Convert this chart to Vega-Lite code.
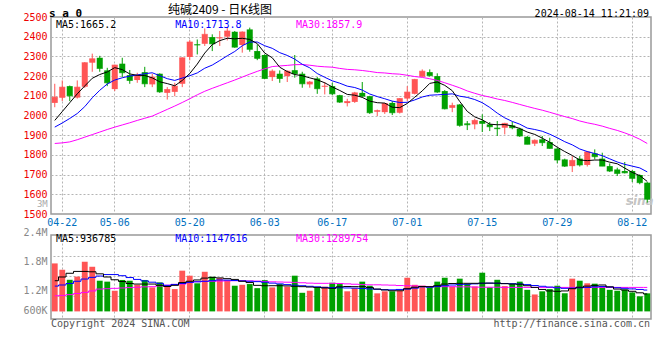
{
  "$schema": "https://vega.github.io/schema/vega-lite/v6.json",
  "background": "white",
  "padding": {"left": 22, "top": 2, "right": 4, "bottom": 4},
  "bounds": "flush",
  "spacing": 21,
  "config": {
    "view": {"stroke": "#999999", "strokeWidth": 1.5},
    "axis": {"labelFont": "DejaVu Sans Mono", "labelFontSize": 10, "gridColor": "#b4b4b4", "gridDash": [2, 2], "gridWidth": 1, "ticks": false, "domain": false},
    "text": {"font": "DejaVu Sans Mono", "fontSize": 10}
  },
  "resolve": {"scale": {"y": "independent"}},
  "data": {"values": [
    {"d":"04-19","o":2064,"h":2161,"l":2042,"c":2093,"v":2580000,"m5":1975,"m10":1941,"m30":1858,"vm5":1650000,"vm10":1360000,"vm30":840000},
    {"d":"04-22","o":2090,"h":2178,"l":2073,"c":2144,"v":2240000,"m5":2020,"m10":1962,"m30":1861,"vm5":1850000,"vm10":1420000,"vm30":860000},
    {"d":"04-23","o":2149,"h":2152,"l":2073,"c":2100,"v":1700000,"m5":2065,"m10":1985,"m30":1866,"vm5":2050000,"vm10":1500000,"vm30":900000},
    {"d":"04-24","o":2091,"h":2178,"l":2086,"c":2144,"v":1870000,"m5":2110,"m10":2010,"m30":1877,"vm5":2150000,"vm10":1620000,"vm30":960000},
    {"d":"04-25","o":2146,"h":2271,"l":2140,"c":2268,"v":2670000,"m5":2150,"m10":2045,"m30":1890,"vm5":2150000,"vm10":1740000,"vm30":1020000},
    {"d":"04-26","o":2268,"h":2314,"l":2222,"c":2288,"v":2400000,"m5":2189,"m10":2090,"m30":1903,"vm5":2130000,"vm10":1830000,"vm30":1100000},
    {"d":"04-29","o":2293,"h":2303,"l":2222,"c":2239,"v":1650000,"m5":2208,"m10":2128,"m30":1916,"vm5":2020000,"vm10":1900000,"vm30":1200000},
    {"d":"04-30","o":2229,"h":2242,"l":2149,"c":2166,"v":1600000,"m5":2221,"m10":2160,"m30":1929,"vm5":1850000,"vm10":1980000,"vm30":1220000},
    {"d":"05-06","o":2134,"h":2258,"l":2124,"c":2256,"v":1110000,"m5":2243,"m10":2180,"m30":1941,"vm5":1700000,"vm10":1980000,"vm30":1240000},
    {"d":"05-07","o":2263,"h":2293,"l":2195,"c":2217,"v":1690000,"m5":2233,"m10":2191.5,"m30":1952,"vm5":1610000,"vm10":1920000,"vm30":1260000},
    {"d":"05-08","o":2205,"h":2231,"l":2161,"c":2178,"v":1650000,"m5":2211,"m10":2200,"m30":1963,"vm5":1500000,"vm10":1820000,"vm30":1280000},
    {"d":"05-09","o":2180,"h":2217,"l":2166,"c":2203,"v":1430000,"m5":2204,"m10":2206,"m30":1975,"vm5":1470000,"vm10":1720000,"vm30":1300000},
    {"d":"05-10","o":2220,"h":2247,"l":2144,"c":2161,"v":1690000,"m5":2203,"m10":2212,"m30":1986,"vm5":1470000,"vm10":1640000,"vm30":1320000},
    {"d":"05-13","o":2158,"h":2212,"l":2144,"c":2195,"v":1290000,"m5":2191,"m10":2217,"m30":1997,"vm5":1470000,"vm10":1570000,"vm30":1330000},
    {"d":"05-14","o":2212,"h":2214,"l":2115,"c":2120,"v":1560000,"m5":2171,"m10":2202,"m30":2014,"vm5":1400000,"vm10":1510000,"vm30":1370000},
    {"d":"05-15","o":2115,"h":2144,"l":2081,"c":2132,"v":1380000,"m5":2162,"m10":2187,"m30":2031,"vm5":1340000,"vm10":1400000,"vm30":1410000},
    {"d":"05-16","o":2120,"h":2166,"l":2098,"c":2149,"v":1200000,"m5":2151,"m10":2178,"m30":2048,"vm5":1400000,"vm10":1450000,"vm30":1450000},
    {"d":"05-17","o":2161,"h":2295,"l":2144,"c":2293,"v":2190000,"m5":2178,"m10":2190,"m30":2066,"vm5":1550000,"vm10":1500000,"vm30":1470000},
    {"d":"05-20","o":2297,"h":2383,"l":2280,"c":2373,"v":1920000,"m5":2213,"m10":2202,"m30":2085,"vm5":1620000,"vm10":1560000,"vm30":1550000},
    {"d":"05-21","o":2361,"h":2386,"l":2310,"c":2358,"v":1510000,"m5":2261,"m10":2216,"m30":2105,"vm5":1690000,"vm10":1590000,"vm30":1600000},
    {"d":"05-22","o":2364,"h":2442,"l":2353,"c":2412,"v":2130000,"m5":2317,"m10":2240,"m30":2123,"vm5":1790000,"vm10":1620000,"vm30":1610000},
    {"d":"05-23","o":2398,"h":2412,"l":2327,"c":2364,"v":1860000,"m5":2360,"m10":2256,"m30":2138,"vm5":1830000,"vm10":1650000,"vm30":1620000},
    {"d":"05-24","o":2392,"h":2429,"l":2353,"c":2395,"v":1790000,"m5":2380,"m10":2279,"m30":2152,"vm5":1800000,"vm10":1690000,"vm30":1630000},
    {"d":"05-27","o":2400,"h":2446,"l":2381,"c":2429,"v":1650000,"m5":2392,"m10":2303,"m30":2166,"vm5":1760000,"vm10":1680000,"vm30":1640000},
    {"d":"05-28","o":2425,"h":2429,"l":2344,"c":2347,"v":1380000,"m5":2389,"m10":2325,"m30":2180,"vm5":1720000,"vm10":1660000,"vm30":1650000},
    {"d":"05-29","o":2358,"h":2427,"l":2319,"c":2424,"v":1430000,"m5":2392,"m10":2354,"m30":2195,"vm5":1620000,"vm10":1640000,"vm30":1650000},
    {"d":"05-30","o":2437,"h":2446,"l":2324,"c":2336,"v":1470000,"m5":2386,"m10":2373,"m30":2210,"vm5":1550000,"vm10":1620000,"vm30":1640000},
    {"d":"05-31","o":2327,"h":2361,"l":2281,"c":2290,"v":1250000,"m5":2365,"m10":2373,"m30":2224,"vm5":1400000,"vm10":1600000,"vm30":1630000},
    {"d":"06-03","o":2307,"h":2310,"l":2185,"c":2188,"v":1680000,"m5":2317,"m10":2354,"m30":2237,"vm5":1380000,"vm10":1570000,"vm30":1610000},
    {"d":"06-04","o":2195,"h":2234,"l":2175,"c":2225,"v":1290000,"m5":2293,"m10":2341,"m30":2248.4,"vm5":1380000,"vm10":1520000,"vm30":1590000},
    {"d":"06-05","o":2212,"h":2229,"l":2166,"c":2188,"v":1470000,"m5":2245,"m10":2319,"m30":2251.6,"vm5":1380000,"vm10":1480000,"vm30":1580000},
    {"d":"06-06","o":2200,"h":2229,"l":2170,"c":2225,"v":1330000,"m5":2223,"m10":2305,"m30":2254.3,"vm5":1370000,"vm10":1440000,"vm30":1570000},
    {"d":"06-07","o":2230,"h":2307,"l":2192,"c":2212,"v":1920000,"m5":2208,"m10":2286,"m30":2258,"vm5":1350000,"vm10":1410000,"vm30":1560000},
    {"d":"06-11","o":2212,"h":2222,"l":2141,"c":2161,"v":1000000,"m5":2202,"m10":2260,"m30":2258.6,"vm5":1330000,"vm10":1380000,"vm30":1540000},
    {"d":"06-12","o":2158,"h":2175,"l":2141,"c":2170,"v":1110000,"m5":2191,"m10":2242,"m30":2255.3,"vm5":1310000,"vm10":1350000,"vm30":1520000},
    {"d":"06-13","o":2188,"h":2195,"l":2110,"c":2136,"v":1290000,"m5":2181,"m10":2213,"m30":2250.2,"vm5":1290000,"vm10":1320000,"vm30":1510000},
    {"d":"06-14","o":2146,"h":2170,"l":2107,"c":2149,"v":1330000,"m5":2166,"m10":2194,"m30":2247.2,"vm5":1260000,"vm10":1290000,"vm30":1510000},
    {"d":"06-17","o":2149,"h":2166,"l":2103,"c":2110,"v":1540000,"m5":2145,"m10":2176,"m30":2245.3,"vm5":1240000,"vm10":1280000,"vm30":1510000},
    {"d":"06-18","o":2103,"h":2105,"l":2064,"c":2068,"v":1470000,"m5":2127,"m10":2164,"m30":2239,"vm5":1320000,"vm10":1270000,"vm30":1500000},
    {"d":"06-19","o":2063,"h":2085,"l":2046,"c":2071,"v":1080000,"m5":2107,"m10":2149,"m30":2234.1,"vm5":1340000,"vm10":1260000,"vm30":1480000},
    {"d":"06-20","o":2069,"h":2120,"l":2064,"c":2115,"v":1250000,"m5":2103,"m10":2142,"m30":2232,"vm5":1330000,"vm10":1250000,"vm30":1460000},
    {"d":"06-21","o":2115,"h":2170,"l":2093,"c":2098,"v":1600000,"m5":2092,"m10":2129,"m30":2228.5,"vm5":1330000,"vm10":1230000,"vm30":1440000},
    {"d":"06-24","o":2098,"h":2100,"l":2008,"c":2014,"v":1380000,"m5":2073,"m10":2109,"m30":2223.6,"vm5":1280000,"vm10":1210000,"vm30":1430000},
    {"d":"06-25","o":2019,"h":2030,"l":1997,"c":2025,"v":970000,"m5":2065,"m10":2096,"m30":2217.9,"vm5":1200000,"vm10":1190000,"vm30":1430000},
    {"d":"06-26","o":2017,"h":2064,"l":2008,"c":2061,"v":1080000,"m5":2063,"m10":2085,"m30":2215.9,"vm5":1150000,"vm10":1170000,"vm30":1420000},
    {"d":"06-27","o":2064,"h":2073,"l":2002,"c":2014,"v":1080000,"m5":2042,"m10":2073,"m30":2212,"vm5":1110000,"vm10":1160000,"vm30":1410000},
    {"d":"06-28","o":2014,"h":2088,"l":2010,"c":2086,"v":1110000,"m5":2040,"m10":2066,"m30":2209.9,"vm5":1110000,"vm10":1180000,"vm30":1390000},
    {"d":"07-01","o":2086,"h":2149,"l":2073,"c":2119,"v":1810000,"m5":2061,"m10":2067,"m30":2204.1,"vm5":1220000,"vm10":1200000,"vm30":1380000},
    {"d":"07-02","o":2110,"h":2186,"l":2107,"c":2183,"v":1430000,"m5":2093,"m10":2079,"m30":2197.8,"vm5":1300000,"vm10":1250000,"vm30":1370000},
    {"d":"07-03","o":2197,"h":2234,"l":2195,"c":2225,"v":1380000,"m5":2125,"m10":2094,"m30":2193.4,"vm5":1340000,"vm10":1320000,"vm30":1350000},
    {"d":"07-04","o":2220,"h":2234,"l":2197,"c":2203,"v":1290000,"m5":2163,"m10":2103,"m30":2186.4,"vm5":1330000,"vm10":1300000,"vm30":1340000},
    {"d":"07-05","o":2200,"h":2214,"l":2115,"c":2119,"v":1600000,"m5":2170,"m10":2105,"m30":2178.2,"vm5":1380000,"vm10":1340000,"vm30":1330000},
    {"d":"07-08","o":2124,"h":2129,"l":2031,"c":2034,"v":1810000,"m5":2153,"m10":2107,"m30":2166.2,"vm5":1470000,"vm10":1380000,"vm30":1330000},
    {"d":"07-09","o":2039,"h":2065,"l":2017,"c":2051,"v":1330000,"m5":2126,"m10":2110,"m30":2153.6,"vm5":1500000,"vm10":1420000,"vm30":1330000},
    {"d":"07-10","o":2056,"h":2058,"l":1943,"c":1950,"v":1760000,"m5":2071,"m10":2098,"m30":2140.4,"vm5":1510000,"vm10":1440000,"vm30":1320000},
    {"d":"07-11","o":1960,"h":1972,"l":1926,"c":1953,"v":1470000,"m5":2021,"m10":2092,"m30":2124.7,"vm5":1510000,"vm10":1460000,"vm30":1320000},
    {"d":"07-12","o":1955,"h":1984,"l":1930,"c":1975,"v":1340000,"m5":1993,"m10":2081,"m30":2112.7,"vm5":1510000,"vm10":1480000,"vm30":1310000},
    {"d":"07-15","o":1972,"h":2006,"l":1916,"c":1960,"v":2080000,"m5":1978,"m10":2065,"m30":2101.7,"vm5":1520000,"vm10":1510000,"vm30":1300000},
    {"d":"07-16","o":1955,"h":1967,"l":1921,"c":1943,"v":1290000,"m5":1956,"m10":2041,"m30":2093.5,"vm5":1520000,"vm10":1520000,"vm30":1300000},
    {"d":"07-17","o":1938,"h":1972,"l":1896,"c":1933,"v":1700000,"m5":1953,"m10":2012,"m30":2083.8,"vm5":1520000,"vm10":1510000,"vm30":1300000},
    {"d":"07-18","o":1938,"h":1963,"l":1904,"c":1960,"v":1360000,"m5":1954,"m10":1988,"m30":2076.2,"vm5":1490000,"vm10":1500000,"vm30":1290000},
    {"d":"07-19","o":1950,"h":1967,"l":1930,"c":1938,"v":1470000,"m5":1947,"m10":1970,"m30":2066.6,"vm5":1470000,"vm10":1490000,"vm30":1290000},
    {"d":"07-22","o":1933,"h":1938,"l":1891,"c":1896,"v":1600000,"m5":1934,"m10":1956,"m30":2056.1,"vm5":1460000,"vm10":1470000,"vm30":1290000},
    {"d":"07-23","o":1892,"h":1896,"l":1854,"c":1854,"v":1160000,"m5":1916,"m10":1936,"m30":2045.9,"vm5":1380000,"vm10":1440000,"vm30":1290000},
    {"d":"07-24","o":1857,"h":1879,"l":1845,"c":1874,"v":910000,"m5":1904,"m10":1929,"m30":2036,"vm5":1290000,"vm10":1390000,"vm30":1290000},
    {"d":"07-25","o":1879,"h":1896,"l":1845,"c":1862,"v":1080000,"m5":1885,"m10":1920,"m30":2026.9,"vm5":1180000,"vm10":1350000,"vm30":1290000},
    {"d":"07-26","o":1865,"h":1887,"l":1832,"c":1833,"v":1200000,"m5":1864,"m10":1905,"m30":2016.4,"vm5":1100000,"vm10":1310000,"vm30":1290000},
    {"d":"07-29","o":1832,"h":1837,"l":1757,"c":1774,"v":1380000,"m5":1839,"m10":1887,"m30":2005.2,"vm5":1080000,"vm10":1270000,"vm30":1290000},
    {"d":"07-30","o":1777,"h":1781,"l":1739,"c":1743,"v":970000,"m5":1817,"m10":1867,"m30":1994.4,"vm5":1100000,"vm10":1240000,"vm30":1290000},
    {"d":"07-31","o":1743,"h":1794,"l":1713,"c":1772,"v":1760000,"m5":1797,"m10":1851,"m30":1984.4,"vm5":1220000,"vm10":1250000,"vm30":1290000},
    {"d":"08-01","o":1781,"h":1794,"l":1741,"c":1749,"v":1650000,"m5":1774,"m10":1830,"m30":1972.2,"vm5":1300000,"vm10":1270000,"vm30":1290000},
    {"d":"08-02","o":1749,"h":1820,"l":1741,"c":1815,"v":1510000,"m5":1771,"m10":1817,"m30":1962.8,"vm5":1360000,"vm10":1290000,"vm30":1290000},
    {"d":"08-05","o":1808,"h":1828,"l":1777,"c":1791,"v":1490000,"m5":1774,"m10":1807,"m30":1955.4,"vm5":1400000,"vm10":1320000,"vm30":1290000},
    {"d":"08-06","o":1781,"h":1811,"l":1743,"c":1743,"v":1340000,"m5":1774,"m10":1796,"m30":1946,"vm5":1420000,"vm10":1340000,"vm30":1290000},
    {"d":"08-07","o":1743,"h":1757,"l":1713,"c":1718,"v":1160000,"m5":1763,"m10":1780,"m30":1934.6,"vm5":1320000,"vm10":1310000,"vm30":1290000},
    {"d":"08-08","o":1726,"h":1735,"l":1693,"c":1706,"v":1110000,"m5":1755,"m10":1764,"m30":1924.3,"vm5":1200000,"vm10":1270000,"vm30":1290000},
    {"d":"08-09","o":1718,"h":1764,"l":1706,"c":1709,"v":1180000,"m5":1733,"m10":1752,"m30":1911.7,"vm5":1150000,"vm10":1240000,"vm30":1290000},
    {"d":"08-12","o":1718,"h":1723,"l":1662,"c":1681,"v":1020000,"m5":1711,"m10":1743,"m30":1897,"vm5":1080000,"vm10":1210000,"vm30":1290000},
    {"d":"08-13","o":1698,"h":1701,"l":1651,"c":1659,"v":810000,"m5":1695,"m10":1734,"m30":1879.6,"vm5":1000000,"vm10":1180000,"vm30":1290000},
    {"d":"08-14","o":1659,"h":1662,"l":1558,"c":1575,"v":970000,"m5":1665.2,"m10":1713.8,"m30":1857.9,"vm5":936785,"vm10":1147616,"vm30":1289754}
  ]},
  "vconcat": [
    {
      "width": 600,
      "height": 197,
      "title": {"text": "纯碱2409 - 日K线图", "anchor": "start", "frame": "group", "dx": 117, "offset": -8.5, "font": "Noto Sans CJK SC", "fontSize": 12, "fontWeight": "normal", "color": "#000000"},
      "encoding": {
        "x": {"field": "d", "type": "ordinal", "sort": "ascending", "title": null,
          "scale": {"paddingInner": 0, "paddingOuter": 0},
          "axis": {"values": ["04-22","05-06","05-20","06-03","06-17","07-01","07-15","07-29","08-12"], "labelColor": "#0070c0", "labelAngle": 0, "labelPadding": 3, "grid": true, "labelFlush": false}}
      },
      "layer": [
        {
          "transform": [{"filter": "datum.d == '08-13'"}],
          "mark": {"type": "text", "text": "sina", "font": "DejaVu Sans", "fontSize": 12, "fontWeight": "bold", "fontStyle": "italic", "color": "#c4c4c4", "align": "center", "baseline": "middle"},
          "encoding": {"y": {"datum": 1565, "type": "quantitative", "scale": {"domain": [1500, 2500]},
            "axis": {"values": [1500,1600,1700,1800,1900,2000,2100,2200,2300,2400,2500], "tickCount": 11, "format": "d", "title": null, "labelColor": "#ee0000", "labelPadding": 4, "grid": true,
              "gridOpacity": {"condition": {"test": "datum.value == 1500 || datum.value == 2500", "value": 0}, "value": 1}}}}
        },
        {
          "mark": {"type": "rule", "strokeWidth": 1},
          "encoding": {
            "y": {"field": "l", "type": "quantitative", "scale": {"domain": [1500, 2500]}, "title": null},
            "y2": {"field": "h"},
            "color": {"condition": {"test": "datum.c >= datum.o", "value": "#ff5555"}, "value": "#00a000"}
          }
        },
        {
          "mark": {"type": "bar", "width": {"band": 0.8}},
          "encoding": {
            "y": {"field": "o", "type": "quantitative", "scale": {"domain": [1500, 2500]}, "title": null},
            "y2": {"field": "c"},
            "color": {"condition": {"test": "datum.c >= datum.o", "value": "#ff5555"}, "value": "#00a000"}
          }
        },
        {
          "mark": {"type": "tick", "thickness": 1, "size": 6},
          "encoding": {
            "y": {"field": "c", "type": "quantitative", "scale": {"domain": [1500, 2500]}, "title": null},
            "color": {"condition": {"test": "datum.c >= datum.o", "value": "#ff5555"}, "value": "#00a000"}
          }
        },
        {
          "mark": {"type": "line", "color": "#ff00ff", "strokeWidth": 1},
          "encoding": {"y": {"field": "m30", "type": "quantitative", "scale": {"domain": [1500, 2500]}, "title": null}}
        },
        {
          "mark": {"type": "line", "color": "#0000ff", "strokeWidth": 1},
          "encoding": {"y": {"field": "m10", "type": "quantitative", "scale": {"domain": [1500, 2500]}, "title": null}}
        },
        {
          "mark": {"type": "line", "color": "#000000", "strokeWidth": 1},
          "encoding": {"y": {"field": "m5", "type": "quantitative", "scale": {"domain": [1500, 2500]}, "title": null}}
        },
        {
          "transform": [{"filter": "datum.d == '04-19'"}],
          "mark": {"type": "text", "text": "MA5:1665.2", "color": "#000000", "align": "left", "baseline": "middle", "dx": 1.25},
          "encoding": {"y": {"datum": 2459, "type": "quantitative", "scale": {"domain": [1500, 2500]}}}
        },
        {
          "transform": [{"filter": "datum.d == '05-16'"}],
          "mark": {"type": "text", "text": "MA10:1713.8", "color": "#0000ff", "align": "left", "baseline": "middle", "dx": 0.5},
          "encoding": {"y": {"datum": 2459, "type": "quantitative", "scale": {"domain": [1500, 2500]}}}
        },
        {
          "transform": [{"filter": "datum.d == '06-07'"}],
          "mark": {"type": "text", "text": "MA30:1857.9", "color": "#ff00ff", "align": "left", "baseline": "middle", "dx": 1.25},
          "encoding": {"y": {"datum": 2459, "type": "quantitative", "scale": {"domain": [1500, 2500]}}}
        },
        {
          "transform": [{"filter": "datum.d == '04-19'"}],
          "mark": {"type": "text", "text": "s a 0", "fontSize": 11, "fontWeight": "bold", "color": "#000000", "align": "left", "baseline": "alphabetic", "dx": -5.75},
          "encoding": {"y": {"datum": 2500, "type": "quantitative", "scale": {"domain": [1500, 2500]}}}
        },
        {
          "transform": [{"filter": "datum.d == '08-14'"}],
          "mark": {"type": "text", "text": "2024-08-14 11:21:09", "color": "#000000", "align": "right", "baseline": "alphabetic", "dx": 1.75},
          "encoding": {"y": {"datum": 2500, "type": "quantitative", "scale": {"domain": [1500, 2500]}}}
        },
        {
          "transform": [{"filter": "datum.d == '04-19'"}],
          "mark": {"type": "text", "text": "3M", "fontSize": 9, "color": "#aaaaaa", "align": "right", "baseline": "middle", "dx": -7},
          "encoding": {"y": {"datum": 1550, "type": "quantitative", "scale": {"domain": [1500, 2500]}}}
        }
      ]
    },
    {
      "width": 600,
      "height": 84,
      "encoding": {
        "x": {"field": "d", "type": "ordinal", "sort": "ascending", "title": null,
          "scale": {"paddingInner": 0, "paddingOuter": 0},
          "axis": {"values": ["04-22","05-06","05-20","06-03","06-17","07-01","07-15","07-29","08-12"], "labels": false, "grid": true}}
      },
      "resolve": {"axis": {"y": "independent"}},
      "layer": [
        {
          "mark": {"type": "bar", "width": {"band": 0.78}},
          "encoding": {
            "y": {"field": "v", "type": "quantitative", "scale": {"domain": [-409000, 4108000]}, "title": null,
              "axis": {"orient": "left", "values": [38000, 1113000, 2688000, 4100000], "tickCount": 10, "labelColor": "#888888", "labelPadding": 4, "grid": false,
                "labelExpr": "datum.value > 4000000 ? '2.4M' : datum.value > 2000000 ? '1.8M' : datum.value > 1000000 ? '1.2M' : '600K'",
                "labelBaseline": {"condition": {"test": "datum.value > 4000000", "value": "alphabetic"}, "value": "middle"}}},
            "y2": {"datum": 0},
            "color": {"condition": {"test": "datum.c >= datum.o", "value": "#ff5555"}, "value": "#00a000"}
          }
        },
        {
          "mark": {"type": "line", "interpolate": "step", "color": "#ff00ff", "strokeWidth": 1},
          "encoding": {"y": {"field": "vm30", "type": "quantitative", "scale": {"domain": [-409000, 4108000]}, "title": null,
            "axis": {"orient": "right", "values": [844000, 1919000, 2995000], "tickCount": 10, "labels": false, "grid": true}}}
        },
        {
          "mark": {"type": "line", "interpolate": "step", "color": "#0000ff", "strokeWidth": 1},
          "encoding": {"y": {"field": "vm10", "type": "quantitative", "scale": {"domain": [-409000, 4108000]}, "axis": null}}
        },
        {
          "mark": {"type": "line", "interpolate": "step", "color": "#000000", "strokeWidth": 1},
          "encoding": {"y": {"field": "vm5", "type": "quantitative", "scale": {"domain": [-409000, 4108000]}, "axis": null}}
        },
        {
          "transform": [{"filter": "datum.d == '04-19'"}],
          "mark": {"type": "text", "text": "MA5:936785", "color": "#000000", "align": "left", "baseline": "middle", "dx": 1.25},
          "encoding": {"y": {"datum": 3893000, "type": "quantitative", "scale": {"domain": [-409000, 4108000]}, "axis": null}}
        },
        {
          "transform": [{"filter": "datum.d == '05-16'"}],
          "mark": {"type": "text", "text": "MA10:1147616", "color": "#0000ff", "align": "left", "baseline": "middle", "dx": 0.5},
          "encoding": {"y": {"datum": 3893000, "type": "quantitative", "scale": {"domain": [-409000, 4108000]}, "axis": null}}
        },
        {
          "transform": [{"filter": "datum.d == '06-07'"}],
          "mark": {"type": "text", "text": "MA30:1289754", "color": "#ff00ff", "align": "left", "baseline": "middle", "dx": 1.25},
          "encoding": {"y": {"datum": 3893000, "type": "quantitative", "scale": {"domain": [-409000, 4108000]}, "axis": null}}
        },
        {
          "transform": [{"filter": "datum.d == '04-19'"}],
          "mark": {"type": "text", "text": "Copyright 2024 SINA.COM", "color": "#555555", "align": "left", "baseline": "middle", "dx": -3.75},
          "encoding": {"y": {"datum": -688000, "type": "quantitative", "scale": {"domain": [-409000, 4108000]}, "axis": null}}
        },
        {
          "transform": [{"filter": "datum.d == '08-14'"}],
          "mark": {"type": "text", "text": "http://finance.sina.com.cn", "color": "#555555", "align": "right", "baseline": "middle", "dx": 2.75},
          "encoding": {"y": {"datum": -688000, "type": "quantitative", "scale": {"domain": [-409000, 4108000]}, "axis": null}}
        }
      ]
    }
  ]
}
